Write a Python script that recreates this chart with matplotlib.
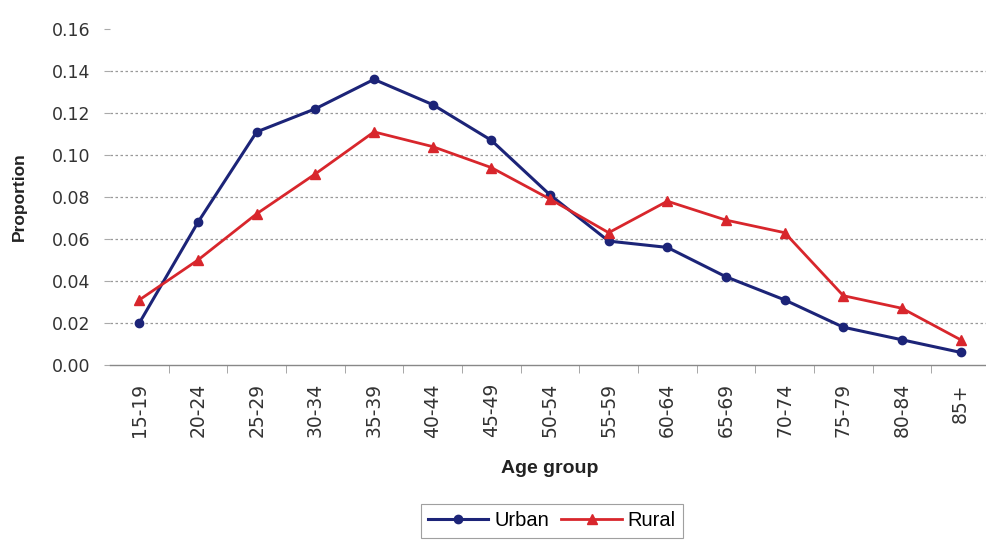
import matplotlib
matplotlib.use("Agg")
import matplotlib.pyplot as plt
import numpy as np

age_groups = ["15-19", "20-24", "25-29", "30-34", "35-39", "40-44", "45-49",
              "50-54", "55-59", "60-64", "65-69", "70-74", "75-79", "80-84", "85+"]
urban = [0.020, 0.068, 0.111, 0.122, 0.136, 0.124, 0.107, 0.081, 0.059, 0.056,
         0.042, 0.031, 0.018, 0.012, 0.006]
rural = [0.031, 0.050, 0.072, 0.091, 0.111, 0.104, 0.094, 0.079, 0.063, 0.078,
         0.069, 0.063, 0.033, 0.027, 0.012]
y_ticks = [0.00, 0.02, 0.04, 0.06, 0.08, 0.10, 0.12, 0.14, 0.16]

plt.rcParams['font.family'] = ['Liberation Sans', 'DejaVu Sans']

fig = plt.figure(figsize=(9.87, 5.40), dpi=100)
ax = fig.add_axes([110/987, 1-365/540, 880/987, 336/540])

x = np.arange(len(age_groups))
ax.plot(x, urban, color="#1c2478", lw=2.2, marker="o", ms=6, label="Urban", zorder=3)
ax.plot(x, rural, color="#d8262c", lw=2.0, marker="^", ms=7, label="Rural", zorder=3)

ax.set_xlim(-0.5, len(age_groups) - 0.5)
ax.set_ylim(0, 0.16)
ax.set_yticks(y_ticks)
ax.set_yticklabels([f"{v:.2f}" for v in y_ticks], fontsize=12.5, color="#333333",
                   family=['DejaVu Sans'])
ax.set_xticks(x)
ax.set_xticklabels(age_groups, rotation=90, fontsize=13.5, color="#333333",
                   family=['DejaVu Sans'], va="top")
ax.set_xticks(np.arange(0.5, len(age_groups) - 0.5, 1), minor=True)
ax.tick_params(axis="x", which="major", length=0, pad=13)
ax.tick_params(axis="x", which="minor", length=6, color="#999999")
ax.tick_params(axis="y", length=4, color="#aaaaaa", pad=10)

for s in ["top", "right", "left"]:
    ax.spines[s].set_visible(False)
ax.spines["bottom"].set_color("#888888")
ax.spines["bottom"].set_linewidth(1.0)

ax.yaxis.grid(True, linestyle=(0, (2, 2)), color="#999999", lw=0.9)
gl = ax.get_ygridlines()
gl[0].set_visible(False)
gl[-1].set_visible(False)
ax.set_axisbelow(True)

ax.set_ylabel("Proportion", fontsize=12.5, fontweight="bold", labelpad=18, color="#222222")
ax.set_xlabel("Age group", fontsize=14, fontweight="bold", labelpad=16, color="#222222")

leg = fig.legend(loc="center", bbox_to_anchor=(552/987, 1-521/540), ncol=2,
                 fontsize=14.5, frameon=True, fancybox=False, edgecolor="#888888",
                 handlelength=3.0, columnspacing=0.6, handletextpad=0.3,
                 borderpad=0.35)
leg.get_frame().set_linewidth(0.8)

fig.savefig("out.png", dpi=100, facecolor="white")
